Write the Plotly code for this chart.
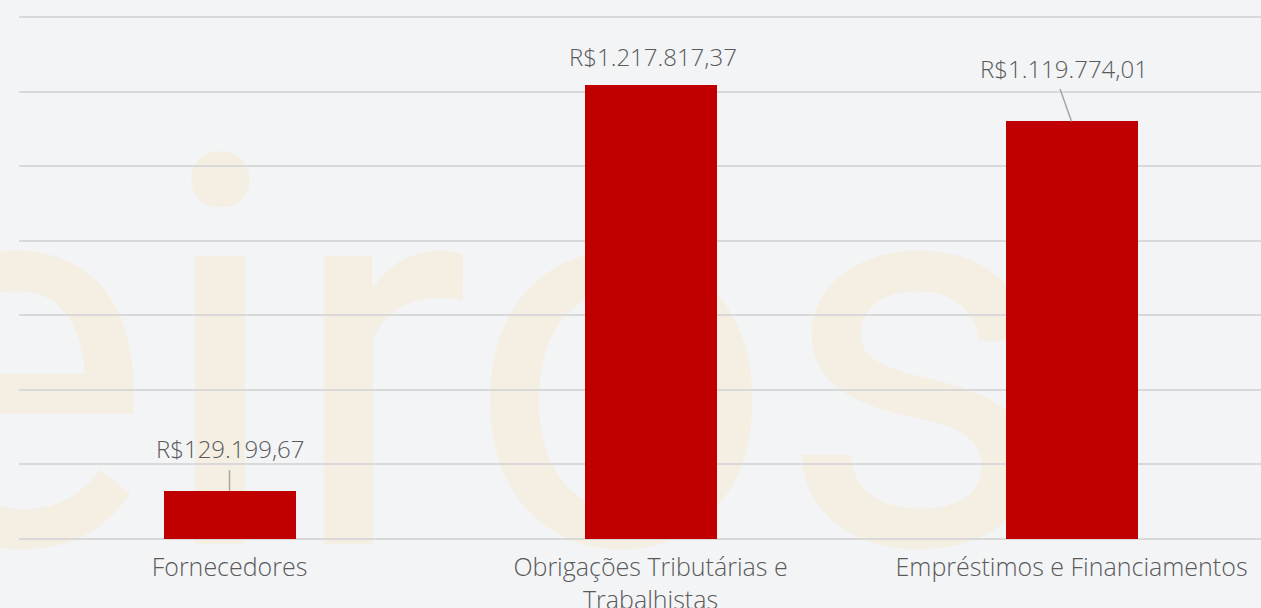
import plotly.graph_objects as go

categories = ["Fornecedores", "Obrigações Tributárias e<br>Trabalhistas", "Empréstimos e Financiamentos"]
values = [129199.67, 1217817.37, 1119774.01]
value_labels = ["R$129.199,67", "R$1.217.817,37", "R$1.119.774,01"]

BG = "#f3f4f6"
FONT = "Open Sans"
TXT = "#5a5a5a"

fig = go.Figure()
fig.add_trace(go.Bar(
    x=list(range(len(categories))), y=values,
    marker=dict(color="#c00000", line=dict(width=0)),
    width=0.3135, hoverinfo="skip",
))

# value labels (text offset + leader lines)
label_shift = [(0, 42), (2, 28), (-8, 53)]
leaders = [(0, -22), None, (-12, -34)]
for i, (v, t) in enumerate(zip(values, value_labels)):
    xs, ys = label_shift[i]
    fig.add_annotation(x=i, y=v, text=t, showarrow=False, xshift=xs, yshift=ys,
                       yanchor="middle", xanchor="center",
                       font=dict(family=FONT, size=24, color=TXT, weight=300))
    if leaders[i]:
        ax, ay = leaders[i]
        fig.add_annotation(x=i, y=v, text="", showarrow=True, arrowhead=0,
                           arrowwidth=1.5, arrowcolor="#a6a6a6", ax=ax, ay=ay, standoff=0)

# watermark
fig.add_shape(type="rect", xref="paper", yref="paper", x0=0.346, x1=0.366, y0=0.41, y1=0.43,
              layer="below", line=dict(width=0), fillcolor="rgba(0,0,0,0)",
              label=dict(text="eiros", textposition="middle center",
                         font=dict(family="Roboto", size=545, color="#f4efe2")))

fig.update_layout(
    width=1261, height=608,
    paper_bgcolor=BG, plot_bgcolor=BG,
    margin=dict(l=19, r=0, t=14, b=69, autoexpand=False),
    showlegend=False,
    bargap=0,
)
fig.update_xaxes(
    tickmode="array", tickvals=list(range(len(categories))), ticktext=categories,
    range=[-0.5, 2.45], showgrid=False, zeroline=False, showline=False, ticks="",
    ticklabelstandoff=11, automargin=False,
    tickfont=dict(family=FONT, size=25, color=TXT, weight=300),
)
fig.update_yaxes(
    range=[0, 1408000], tickvals=[200000 * k for k in range(8)], showticklabels=False,
    showgrid=True, automargin=False,
    gridcolor="#d9d9d9", gridwidth=2, zeroline=True, zerolinecolor="#d9d9d9",
    zerolinewidth=2, showline=False,
)
fig.write_html("out.html", config={"displayModeBar": False},
               post_script="document.body.style.margin='0';")
